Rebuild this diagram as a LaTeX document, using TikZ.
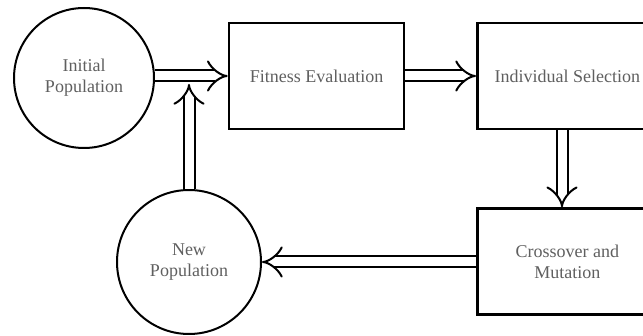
\documentclass[tikz,border=0pt]{standalone}
\usepackage{fontspec}
\setmainfont{Liberation Serif}
\usetikzlibrary{arrows.meta}
\definecolor{txtgray}{RGB}{95,95,95}

\begin{document}
\begin{tikzpicture}[x=0.5pt, y=-0.5pt,
    popcirc/.style={draw, line width=1pt, circle, minimum size=70pt, inner sep=0pt,
        align=center, text=txtgray, font=\fontsize{9}{10.5}\selectfont},
    procbox/.style={draw, line width=1.3pt, rectangle, minimum width=87.5pt, minimum height=53pt,
        inner sep=0pt, align=center, text=txtgray, font=\fontsize{9}{10.5}\selectfont},
    dblarrow/.style={double, double distance=4.5pt, line width=1pt, -{Implies[length=8pt, width=14pt]}}]
            \useasboundingbox (0,0) rectangle (643,336);
            \node[popcirc] (initpop) at (84,78) {Initial\\Population};
            \node[procbox] (fitness) at (316.5,76) {Fitness Evaluation};
            \node[procbox, minimum width=90pt, anchor=west] (indiv) at (476,76) {Individual Selection};
            \node[procbox, minimum width=90pt, anchor=west] (cross) at (476,261.5) {Crossover and\\Mutation};
            \node[popcirc, minimum size=72pt] (newpop) at (189,262) {New\\Population};
            \coordinate (join) at (189,84);
            \draw[dblarrow] (initpop.east |- fitness.west) -- (fitness.west);
            \draw[dblarrow] (fitness.east) -- (indiv.west);
            \draw[dblarrow] (indiv.south -| 562,0) -- (cross.north -| 562,0);
            \draw[dblarrow] (cross.west |- newpop.east) -- (newpop.east);
            \draw[dblarrow] (newpop.north) -- (join);
        \end{tikzpicture}
\end{document}
